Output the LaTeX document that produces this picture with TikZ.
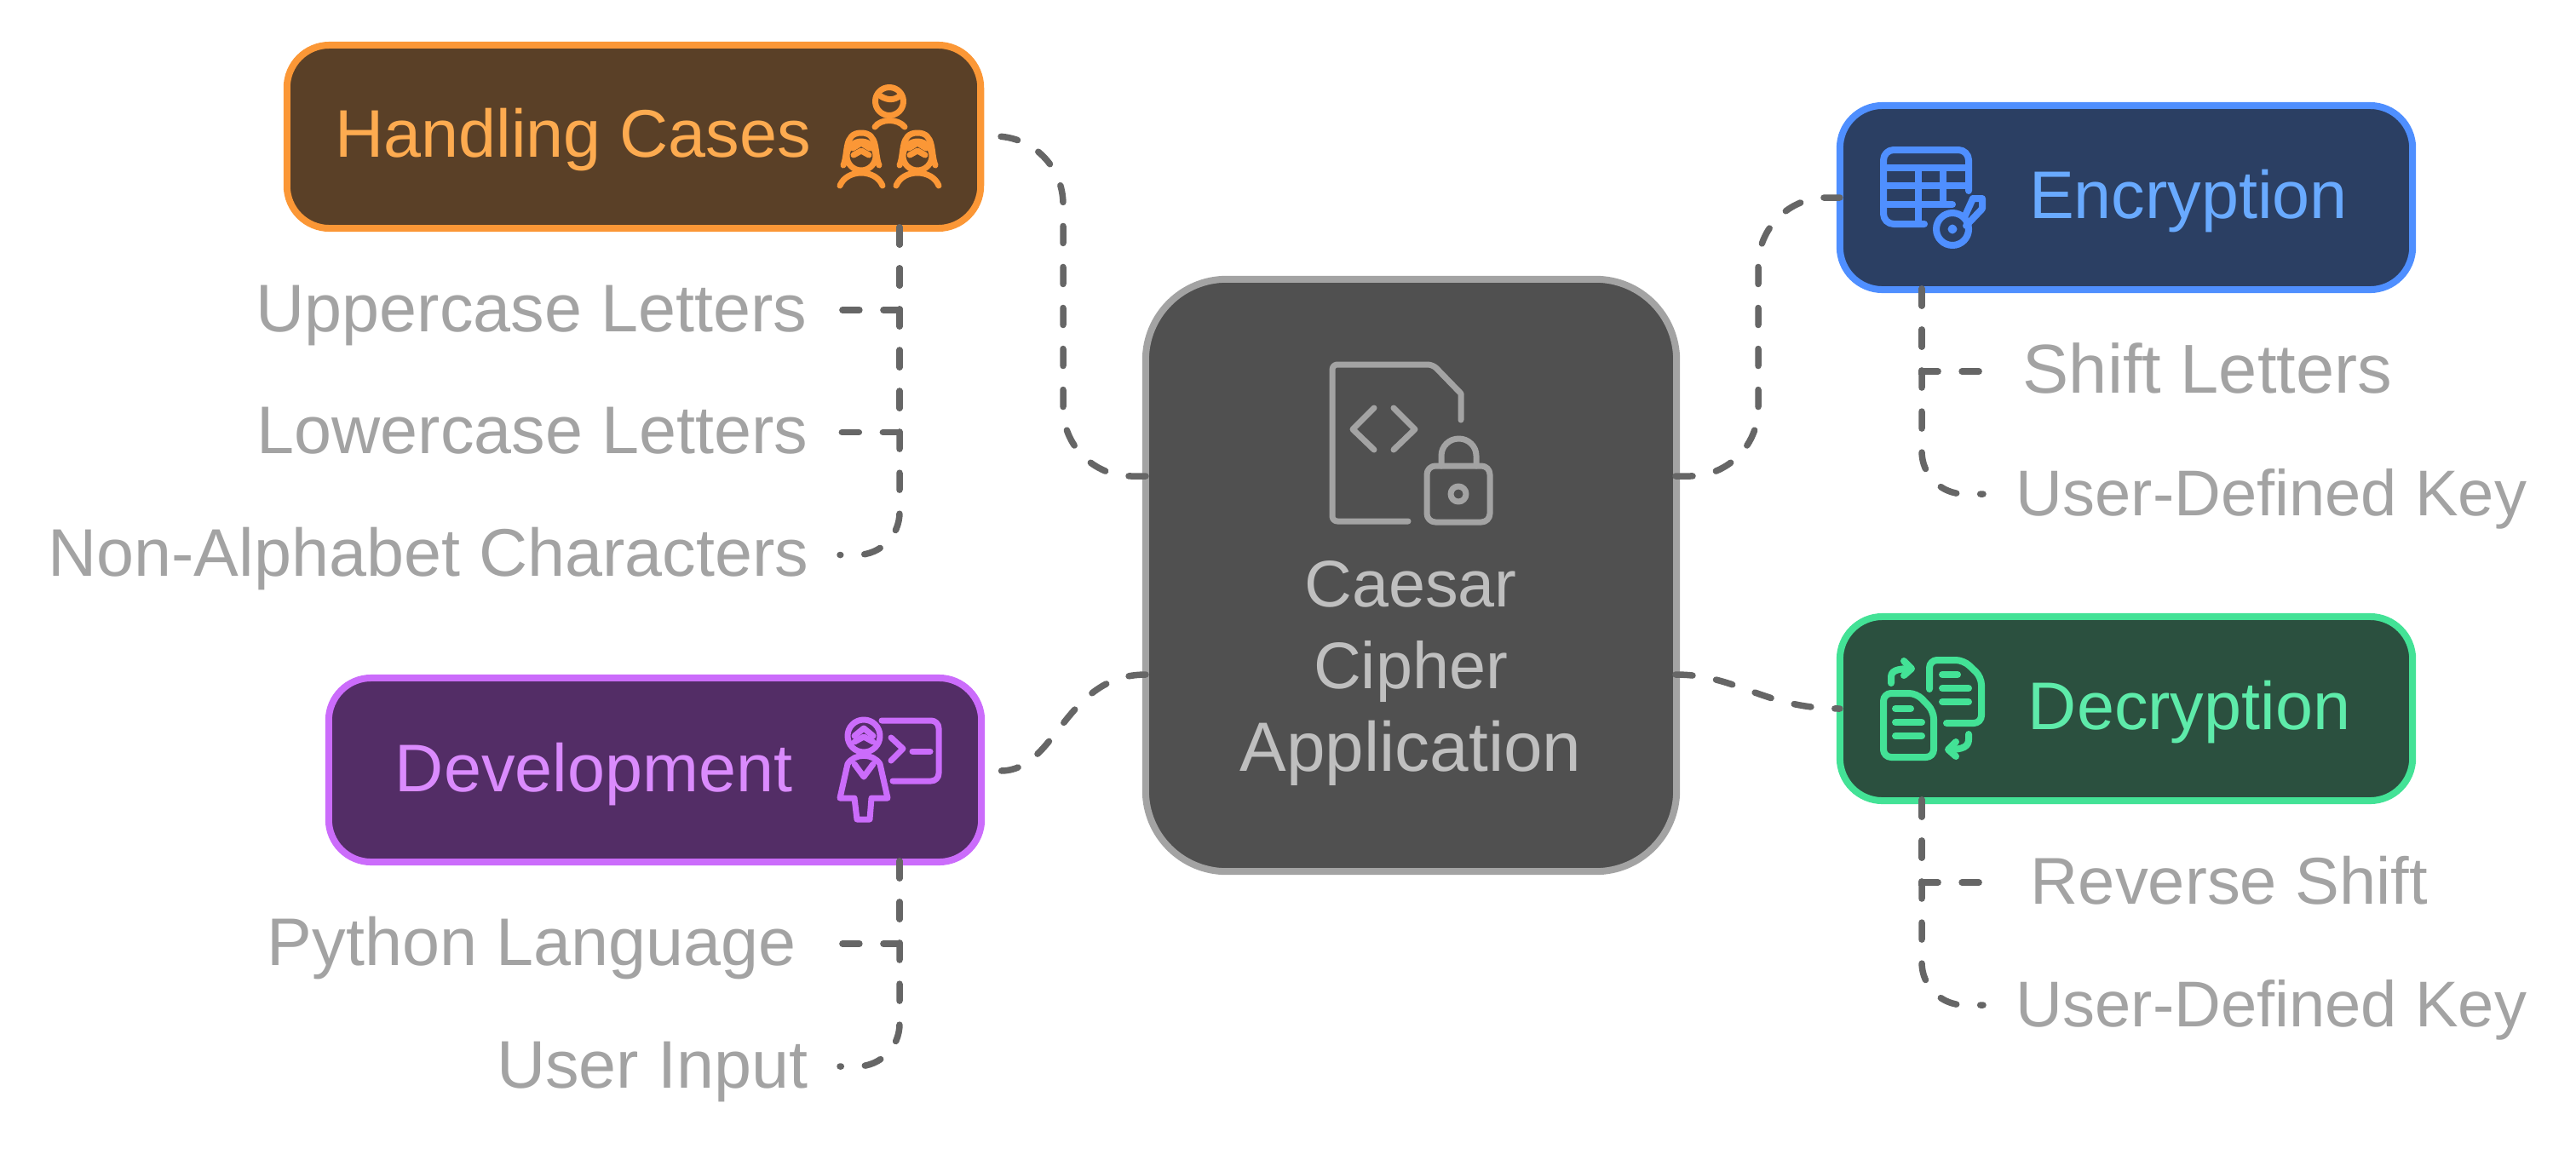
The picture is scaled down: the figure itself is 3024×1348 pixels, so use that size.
\documentclass[tikz,border=0pt]{standalone}
\usepackage{fontspec}
\setmainfont{Liberation Sans}
\usetikzlibrary{positioning}
\definecolor{CipherLink}{HTML}{666666}
\definecolor{CipherLeaf}{HTML}{A3A3A3}
\definecolor{AppFill}{HTML}{505050}
\definecolor{AppLine}{HTML}{A3A3A3}
\definecolor{AppText}{HTML}{BFBFBF}
\definecolor{CasesFill}{HTML}{5A4027}
\definecolor{CasesLine}{HTML}{FB9736}
\definecolor{CasesText}{HTML}{FDAB50}
\definecolor{DevFill}{HTML}{532D66}
\definecolor{DevLine}{HTML}{CB6CFB}
\definecolor{DevText}{HTML}{DA8BFD}
\definecolor{EncFill}{HTML}{2B3F63}
\definecolor{EncLine}{HTML}{4F8FFF}
\definecolor{EncText}{HTML}{69AAFF}
\definecolor{DecFill}{HTML}{2B503F}
\definecolor{DecLine}{HTML}{43E296}
\definecolor{DecText}{HTML}{5EEBAA}
\tikzset{
  link/.style={draw=CipherLink, line width=0.075cm, line cap=round, dash pattern=on 0.20cm off 0.28cm},
  area/.style={rounded corners=0.5cm, line width=0.08cm, minimum width=6.72cm, minimum height=2.16cm, outer sep=0pt, inner sep=0pt},
  head/.style={anchor=base, inner sep=0pt, font=\fontsize{22.5}{27}\selectfont},
  leaf/.style={text=CipherLeaf, inner ysep=0pt, inner xsep=0.38cm, text height=0.50cm, text depth=0pt, font=\fontsize{22.5}{27}\selectfont},
  icon/.style={line width=0.07cm, line cap=round, line join=round},
}
\begin{document}
\begin{tikzpicture}[x=0.01cm,y=-0.01cm]
  \useasboundingbox (0,0) rectangle (3024,1348);
  % boxes
  \node[area,fill=AppFill,draw=AppLine,rounded corners=0.95cm,minimum width=6.23cm,minimum height=6.95cm] (app) at (1656.5,675.5) {};
  \node[area,fill=CasesFill,draw=CasesLine,minimum width=8.14cm,minimum height=2.15cm] (cases) at (744,160.5) {};
  \node[area,fill=DevFill,draw=DevLine,minimum width=7.66cm] (dev) at (769,904) {};
  \node[area,fill=EncFill,draw=EncLine] (enc) at (2496,232) {};
  \node[area,fill=DecFill,draw=DecLine] (dec) at (2496,832) {};
  % titles
  \node[head,text=AppText,align=center,font=\fontsize{22}{27.4}\selectfont] (apptext) at (1656,905) {Caesar\\Cipher\\{\fontsize{23.3}{27.4}\selectfont Application}};
  \node[head,text=CasesText] (casestext) at (673,184) {Handling Cases};
  \node[head,text=DevText] (devtext) at (697,929) {Development};
  \node[head,text=EncText] (enctext) at (2569,256) {Encryption};
  \node[head,text=DecText] (dectext) at (2570,856) {Decryption};
  % leaves
  \node[leaf,anchor=east] (upper) at (986,364) {Uppercase Letters};
  \node[leaf,anchor=east,inner xsep=0.37cm] (lower) at (986,507.5) {Lowercase Letters};
  \node[leaf,anchor=east,inner xsep=0.36cm] (nonalpha) at (986,651.5) {Non-Alphabet Characters};
  \node[leaf,anchor=east] (python) at (973,1108) {Python Language};
  \node[leaf,anchor=east,inner xsep=0.37cm] (input) at (986,1252) {User Input};
  \node[leaf,anchor=west,font=\fontsize{23.1}{27}\selectfont] (shift) at (2336,436) {Shift Letters};
  \node[leaf,anchor=west,font=\fontsize{21.6}{27}\selectfont] (enckey) at (2328,580) {User-Defined Key};
  \node[leaf,anchor=west,font=\fontsize{22.1}{27}\selectfont] (reverse) at (2345,1036) {Reverse Shift};
  \node[leaf,anchor=west,font=\fontsize{21.6}{27}\selectfont] (deckey) at (2328,1180) {User-Defined Key};
  % connector ends
  \coordinate (appcases) at (1345,559);
  \coordinate (appdev) at (1345,792);
  \coordinate (appenc) at (1967,559);
  \coordinate (appdec) at (1967,792);
  \coordinate (casesin) at (1170,160);
  \coordinate (devin) at (1175,905);
  \coordinate (casesout) at (1056,267);
  \coordinate (devout) at (1056,1011);
  \coordinate (encout) at (2256,339);
  \coordinate (decout) at (2256,939);
  % connectors
  \draw[link,rounded corners=0.8cm] (appcases) -| (1248,160) -- (casesin);
  \draw[link] (appdev) .. controls (1250,792) and (1240,905) .. (devin);
  \draw[link,rounded corners=0.8cm] (appenc) -| (2064,232) -- (enc.west);
  \draw[link] (appdec) .. controls (2040,792) and (2070,832) .. (dec.west);
  \draw[link] (casesout) |- (upper.east);
  \draw[link] (casesout) |- (lower.east);
  \draw[link,rounded corners=0.5cm] (casesout) |- (nonalpha.east);
  \draw[link] (devout) |- (python.east);
  \draw[link,rounded corners=0.5cm] (devout) |- (input.east);
  \draw[link] (encout) |- (shift.west);
  \draw[link,rounded corners=0.5cm] (encout) |- (enckey.west);
  \draw[link] (decout) |- (reverse.west);
  \draw[link,rounded corners=0.5cm] (decout) |- (deckey.west);
  % file and lock
  \begin{scope}[icon,draw=AppLine]
    \draw (1715,493) -- (1715,462) [rounded corners=0.06cm] -- (1682,428) -- (1564,428) -- (1564,612) -- (1653,612);
    \draw (1613,479) -- (1588,504) -- (1613,528);
    \draw (1636,479) -- (1661,504) -- (1636,528);
    \draw[rounded corners=0.1cm] (1675,547) rectangle (1749,613);
    \draw (1692,547) -- (1692,535) arc[start angle=180,end angle=360,x radius=20.5,y radius=20] -- (1733,547);
    \draw (1712,580) circle[radius=9];
  \end{scope}
  % three people
  \begin{scope}[icon,draw=CasesLine]
    \draw (1044,119) circle[radius=16.5];
    \draw (1034,113) .. controls (1042,118) and (1050,118) .. (1057,112);
    \draw (1027,149) .. controls (1034,139) and (1054,139) .. (1062,149);
    \foreach \dx in {0,66} {
      \begin{scope}[xshift=\dx*0.01cm]
        \draw (990,194) .. controls (996,180) and (990,156) .. (1011,156) .. controls (1032,156) and (1026,180) .. (1032,194);
        \draw (1011,183) circle[radius=17];
        \draw (1001,174) -- (1011,168) -- (1021,174);
        \draw (1002,182) -- (1011,177) -- (1020,182);
        \draw (986,218) .. controls (994,198) and (1028,198) .. (1036,218);
      \end{scope}
    }
  \end{scope}
  % presenter
  \begin{scope}[icon,draw=DevLine]
    \draw (1014,864) circle[radius=19];
    \draw (1003,864) -- (1014,855) -- (1025,864);
    \draw (1003,871) -- (1014,865) -- (1025,871);
    \draw (995,897) .. controls (1003,884) and (1025,884) .. (1033,897) -- (1042,937) -- (1023,937) -- (1021,962) -- (1006,962) -- (1003,937) -- (986,937) -- cycle;
    \draw (1003,897) -- (1014,912) -- (1025,897);
    \draw[rounded corners=0.09cm] (1035,846) -- (1102,846) -- (1102,917) -- (1048,917);
    \draw (1046,866) -- (1060,879) -- (1046,893);
    \draw (1071,882) -- (1092,882);
  \end{scope}
  % table and key
  \begin{scope}[icon,line width=0.08cm,draw=EncLine]
    \draw[rounded corners=0.12cm] (2259,263) -- (2211,263) -- (2211,176) -- (2311,176) -- (2311,224);
    \draw (2211,197) -- (2311,197);
    \draw (2211,218) -- (2311,218);
    \draw (2211,240) -- (2292,240);
    \draw (2252,197) -- (2252,263);
    \draw (2281,197) -- (2281,240);
    \draw (2292,269) circle[radius=19];
    \draw[fill=EncLine] (2292,269) circle[radius=1.5];
    \draw (2307,253) -- (2316,233) -- (2327,233) -- (2327,245) -- (2308,265);
  \end{scope}
  % swapped documents
  \begin{scope}[icon,line width=0.08cm,draw=DecLine]
    \draw[rounded corners=0.09cm] (2250,814) -- (2211,814) -- (2211,889) -- (2270,889) -- (2270,835) -- cycle;
    \draw (2225,832) -- (2243,832);
    \draw (2225,848) -- (2256,848);
    \draw (2225,864) -- (2256,864);
    \draw[rounded corners=0.09cm] (2265,809) -- (2265,775) -- (2305,775) -- (2326,795) -- (2326,849) -- (2285,849);
    \draw (2280,792) -- (2298,792);
    \draw (2280,808) -- (2311,808);
    \draw (2280,824) -- (2311,824);
    \draw (2220,802) -- (2220,795) .. controls (2220,788) and (2226,785) .. (2243,785);
    \draw (2235,776) -- (2244,785) -- (2235,793);
    \draw (2311,862) -- (2311,868) .. controls (2311,876) and (2305,880) .. (2288,880);
    \draw (2296,871) -- (2287,880) -- (2296,888);
  \end{scope}
\end{tikzpicture}
\end{document}
